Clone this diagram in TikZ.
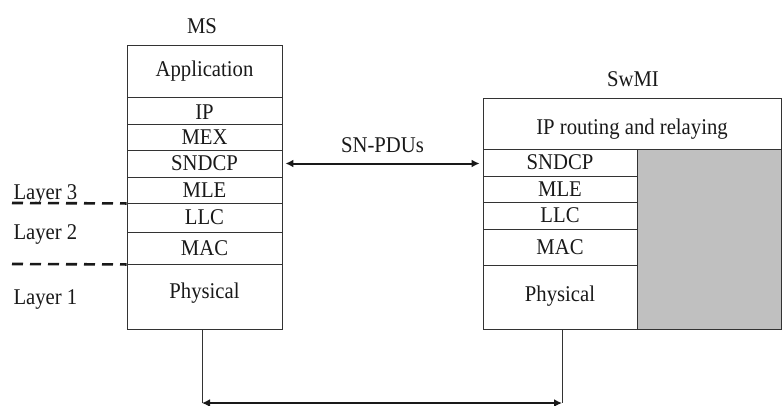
\documentclass[tikz,border=0pt]{standalone}
\usepackage{fontspec}
\setmainfont[FakeStretch=0.92]{Liberation Serif}
\usetikzlibrary{arrows.meta}
\definecolor{ln}{HTML}{333333}
\definecolor{shade}{HTML}{C0C0C0}
\tikzset{
  txt/.style={font=\fontsize{22.5}{26}\selectfont, text=black!90},
  layer/.style={txt, draw=ln, line width=0.9pt, inner sep=0pt, text height=14.9pt, text depth=0pt},
  msl/.style={layer, minimum width=155pt},
  swl/.style={layer, minimum width=154pt},
  dashsep/.style={line width=2.6pt, dash pattern=on 11pt off 7pt, draw=black!90},
  link/.style={draw=ln, line width=0.9pt},
  dbl/.style={draw=black!90, line width=2pt, {Latex[length=8pt,width=8pt]}-{Latex[length=8pt,width=8pt]}}
}
\begin{document}
\begin{tikzpicture}[x=1pt,y=-1pt]
\useasboundingbox (0,0) rectangle (782,405);
% MS stack
\node[txt, text height=14.9pt, text depth=0pt] (mslabel) at (202,26) {MS};
\node[msl, minimum height=52pt, text depth=3pt] (app) at (204.5,71) {Application};
\node[msl, minimum height=27pt, text height=17pt] (ip) at (204.5,110.5) {IP};
\node[msl, minimum height=26pt] (mex) at (204.5,137) {MEX};
\node[msl, minimum height=27pt] (sndcp) at (204.5,163.5) {SNDCP};
\node[msl, minimum height=26pt] (mle) at (204.5,190) {MLE};
\node[msl, minimum height=29pt] (llc) at (204.5,217.5) {LLC};
\node[msl, minimum height=32pt] (mac) at (204.5,248) {MAC};
\node[msl, minimum height=65pt, text depth=10pt] (phy) at (204.5,296.5) {Physical};
% Layer labels
\node[txt, anchor=west, text height=14.9pt, text depth=0pt] (l3) at (10,192) {Layer 3};
\node[txt, anchor=west, text height=14.9pt, text depth=0pt] (l2) at (10,232.5) {Layer 2};
\node[txt, anchor=west, text height=14.9pt, text depth=0pt] (l1) at (10,297) {Layer 1};
\coordinate (d1) at (12,203);
\coordinate (d2) at (12,264);
\draw[dashsep] (d1) -- (mle.south west);
\draw[dashsep] (d2) -- (mac.south west);
% SwMI stack
\node[txt, text height=14.9pt, text depth=0pt] (swlabel) at (633,79) {SwMI};
\node[layer, minimum width=298pt, minimum height=51pt, text height=21pt] (route) at (632,123.5) {IP routing and relaying};
\node[draw=ln, fill=shade, line width=0.9pt, minimum width=144pt, minimum height=180pt, inner sep=0pt] (gray) at (709,239) {};
\node[swl, minimum height=27pt] (sndcp2) at (560,162.5) {SNDCP};
\node[swl, minimum height=26pt] (mle2) at (560,189) {MLE};
\node[swl, minimum height=27pt] (llc2) at (560,215.5) {LLC};
\node[swl, minimum height=36pt] (mac2) at (560,247) {MAC};
\node[swl, minimum height=64pt, text depth=5pt] (phy2) at (560,297) {Physical};
% SN-PDUs
\draw[dbl, shorten <=3pt, shorten >=3pt] (sndcp.east) -- (sndcp.east -| sndcp2.west)
  node[txt, midway, above=6pt] (snpdu) {SN-PDUs};
% Physical link
\coordinate (bl) at (202,403);
\coordinate (br) at (562,403);
\draw[link] (phy.south -| bl) -- (bl);
\draw[link] (phy2.south -| br) -- (br);
\draw[dbl] (bl) -- (br);
\end{tikzpicture}
\end{document}
